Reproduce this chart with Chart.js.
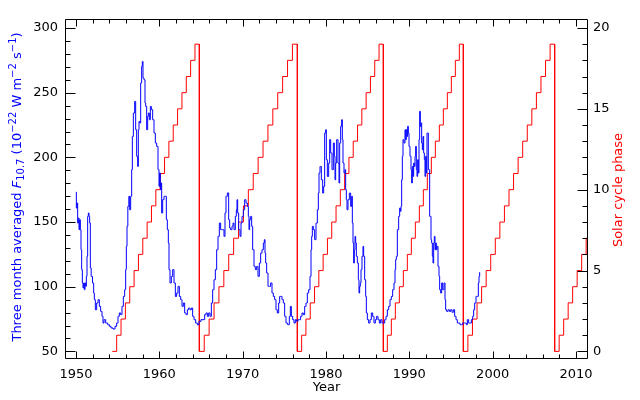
<!DOCTYPE html>
<html>
<head>
<meta charset="utf-8">
<script src="https://cdn.jsdelivr.net/npm/chart.js@4.4.1/dist/chart.umd.min.js"></script>
<style>
  html, body { margin: 0; padding: 0; background: #fff; }
  canvas { display: block; }
</style>
</head>
<body>
<canvas id="solarChart" width="640" height="400"></canvas>
<script>
// three month averaged F10.7, [year, value]
const f107 = [
  [1950.00,173.2],[1950.08,160.8],[1950.16,164.7],[1950.24,149.2],[1950.32,153.1],[1950.40,144.1],
  [1950.48,151.8],[1950.56,144.1],[1950.64,128.6],[1950.72,113.2],[1950.80,102.9],[1950.88,99.0],
  [1950.96,102.9],[1951.04,97.7],[1951.12,102.9],[1951.20,100.3],[1951.28,108.0],[1951.36,123.5],
  [1951.44,154.4],[1951.52,157.0],[1951.60,154.4],[1951.68,149.2],[1951.76,114.4],[1951.88,108.0],
  [1952.08,102.9],[1952.16,95.1],[1952.24,90.0],[1952.40,82.2],[1952.56,87.4],[1952.72,90.0],
  [1952.88,84.8],[1953.04,80.9],[1953.20,77.1],[1953.28,71.9],[1953.44,74.5],[1953.68,71.9],
  [1953.92,70.6],[1954.08,69.4],[1954.32,68.1],[1954.56,67.3],[1954.80,69.4],[1954.96,71.9],
  [1955.12,77.1],[1955.28,79.7],[1955.44,78.4],[1955.60,84.8],[1955.76,92.5],[1955.92,97.7],
  [1956.00,113.2],[1956.08,131.2],[1956.16,146.7],[1956.28,162.1],[1956.40,169.9],[1956.48,159.5],
  [1956.64,169.9],[1956.72,190.5],[1956.80,216.2],[1956.96,234.3],[1957.12,243.3],[1957.20,221.4],
  [1957.36,200.8],[1957.44,193.0],[1957.52,221.4],[1957.60,227.8],[1957.68,226.6],[1957.84,257.5],
  [1957.92,270.4],[1958.00,274.2],[1958.08,261.3],[1958.24,260.0],[1958.32,242.0],[1958.40,239.4],
  [1958.56,221.4],[1958.64,231.7],[1958.72,234.3],[1958.88,229.1],[1958.96,239.4],[1959.12,236.9],
  [1959.28,229.1],[1959.44,218.8],[1959.60,211.1],[1959.76,208.5],[1959.92,190.5],[1960.00,177.6],
  [1960.08,187.9],[1960.16,175.0],[1960.24,180.2],[1960.32,157.0],[1960.48,167.3],[1960.64,169.9],
  [1960.80,169.9],[1960.88,151.8],[1961.04,144.1],[1961.12,133.8],[1961.20,113.2],[1961.36,102.9],
  [1961.52,108.0],[1961.68,113.2],[1961.84,102.9],[1962.00,92.5],[1962.16,95.1],[1962.32,100.3],
  [1962.48,92.5],[1962.64,90.0],[1962.80,84.8],[1962.96,87.4],[1963.12,79.7],[1963.28,78.4],
  [1963.44,82.2],[1963.60,83.5],[1963.76,82.2],[1963.92,83.5],[1964.08,77.1],[1964.24,74.5],
  [1964.48,71.9],[1964.64,70.6],[1964.88,73.2],[1965.12,74.5],[1965.36,74.5],[1965.52,78.4],
  [1965.68,79.7],[1965.84,77.1],[1966.00,79.7],[1966.16,77.1],[1966.32,87.4],[1966.48,97.7],
  [1966.64,105.4],[1966.80,113.2],[1966.96,128.6],[1967.12,138.9],[1967.28,149.2],[1967.44,144.1],
  [1967.68,144.1],[1967.84,138.9],[1967.92,157.0],[1968.08,169.9],[1968.24,172.5],[1968.40,151.8],
  [1968.48,145.4],[1968.64,144.1],[1968.80,146.7],[1968.88,149.2],[1969.04,144.1],[1969.20,154.4],
  [1969.28,159.5],[1969.36,167.3],[1969.44,157.0],[1969.60,144.1],[1969.76,138.9],[1969.84,149.2],
  [1970.00,154.4],[1970.16,159.5],[1970.32,167.3],[1970.48,164.7],[1970.64,162.1],[1970.72,154.4],
  [1970.80,144.1],[1970.88,151.8],[1971.04,154.4],[1971.12,146.7],[1971.28,128.6],[1971.44,115.7],
  [1971.60,113.2],[1971.76,115.7],[1971.92,108.0],[1972.08,118.3],[1972.24,126.0],[1972.40,128.6],
  [1972.56,133.8],[1972.64,136.4],[1972.72,126.0],[1972.80,118.3],[1972.96,110.6],[1973.12,100.3],
  [1973.28,100.3],[1973.44,102.9],[1973.60,95.1],[1973.76,92.5],[1973.92,90.0],[1974.08,82.2],
  [1974.24,79.7],[1974.40,87.4],[1974.48,92.5],[1974.64,92.5],[1974.80,90.0],[1974.96,87.4],
  [1975.12,77.1],[1975.28,71.9],[1975.52,70.6],[1975.68,77.1],[1975.76,84.8],[1975.92,77.1],
  [1976.08,74.5],[1976.24,71.9],[1976.40,74.5],[1976.56,73.2],[1976.72,74.5],[1976.88,74.5],
  [1977.04,77.1],[1977.20,79.7],[1977.36,78.4],[1977.52,84.8],[1977.68,87.4],[1977.84,95.1],
  [1978.00,97.7],[1978.16,108.0],[1978.24,128.6],[1978.32,138.9],[1978.40,146.7],[1978.56,144.1],
  [1978.72,136.4],[1978.88,149.2],[1979.04,159.5],[1979.12,172.4],[1979.20,187.9],[1979.36,193.0],
  [1979.52,182.7],[1979.68,172.4],[1979.76,177.6],[1979.92,218.8],[1980.00,221.4],[1980.08,198.2],
  [1980.24,185.3],[1980.40,195.6],[1980.48,213.7],[1980.64,203.4],[1980.80,190.5],[1980.96,211.1],
  [1981.04,200.8],[1981.12,182.7],[1981.20,195.6],[1981.36,213.7],[1981.52,195.6],[1981.60,180.2],
  [1981.68,211.1],[1981.84,224.0],[1981.92,229.1],[1982.00,213.7],[1982.08,195.6],[1982.24,187.9],
  [1982.32,190.5],[1982.40,175.0],[1982.48,167.3],[1982.56,159.5],[1982.72,167.3],[1982.88,172.4],
  [1983.04,162.1],[1983.12,169.9],[1983.20,149.2],[1983.28,133.8],[1983.36,118.3],[1983.44,128.6],
  [1983.52,138.9],[1983.60,133.8],[1983.68,123.5],[1983.84,118.3],[1983.92,105.4],[1984.00,95.1],
  [1984.08,100.3],[1984.16,102.9],[1984.24,113.2],[1984.40,123.5],[1984.48,131.2],[1984.56,123.5],
  [1984.72,105.4],[1984.80,92.5],[1984.88,79.7],[1985.04,74.5],[1985.20,71.9],[1985.36,74.5],
  [1985.52,79.7],[1985.68,77.1],[1985.84,71.9],[1986.00,74.5],[1986.16,77.1],[1986.32,74.5],
  [1986.48,71.9],[1986.64,74.5],[1986.80,71.9],[1986.96,71.9],[1987.12,74.5],[1987.28,77.1],
  [1987.44,82.2],[1987.60,84.8],[1987.76,90.0],[1987.92,92.5],[1988.08,97.7],[1988.24,102.9],
  [1988.32,113.2],[1988.40,120.9],[1988.48,123.5],[1988.64,144.1],[1988.80,154.4],[1988.88,160.8],
  [1988.96,158.3],[1989.04,162.1],[1989.12,182.7],[1989.20,200.8],[1989.28,213.7],[1989.44,211.1],
  [1989.52,221.4],[1989.60,213.7],[1989.68,221.4],[1989.76,216.2],[1989.84,224.0],[1989.92,218.8],
  [1990.00,208.5],[1990.16,200.8],[1990.24,190.5],[1990.32,180.2],[1990.40,193.0],[1990.48,185.3],
  [1990.56,195.6],[1990.64,193.0],[1990.72,200.8],[1990.80,208.5],[1990.88,190.5],[1990.96,185.3],
  [1991.04,198.2],[1991.12,187.9],[1991.20,213.7],[1991.28,235.6],[1991.36,224.0],[1991.44,226.6],
  [1991.52,211.1],[1991.60,205.9],[1991.68,216.2],[1991.76,203.4],[1991.84,198.2],[1991.92,185.3],
  [1992.00,200.8],[1992.08,187.9],[1992.16,218.8],[1992.24,218.8],[1992.32,190.5],[1992.40,190.5],
  [1992.48,154.4],[1992.56,154.4],[1992.64,136.4],[1992.72,133.8],[1992.80,123.5],[1992.88,118.3],
  [1992.96,133.8],[1993.04,138.9],[1993.12,128.6],[1993.20,133.8],[1993.28,128.6],[1993.36,131.2],
  [1993.52,115.7],[1993.60,108.0],[1993.68,97.7],[1993.84,95.1],[1993.92,102.9],[1994.08,97.7],
  [1994.24,102.9],[1994.32,90.0],[1994.40,82.2],[1994.56,80.9],[1994.72,82.2],[1994.88,80.9],
  [1995.04,82.2],[1995.20,80.2],[1995.36,82.2],[1995.52,77.1],[1995.68,74.5],[1995.84,71.9],
  [1996.00,71.9],[1996.16,70.6],[1996.32,70.6],[1996.48,71.9],[1996.64,71.9],[1996.80,71.9],
  [1996.88,70.6],[1997.04,74.5],[1997.20,71.9],[1997.36,71.9],[1997.52,74.5],[1997.68,77.1],
  [1997.76,82.2],[1997.92,87.4],[1998.08,92.5],[1998.24,92.5],[1998.32,102.9],[1998.40,108.0],
  [1998.48,111.1]
];

// solar cycle minima (start of phase 0), phase split in 20 bins per cycle
const cycleMinima = [1954.36, 1964.80, 1976.56, 1986.88, 1996.48, 2007.44];
const lastCycleBin = 0.54;
const phaseEnd = 2011.44;
const phaseBins = 20;

const yearTicks = [1950, 1960, 1970, 1980, 1990, 2000, 2010];
const fluxTicks = [50, 100, 150, 200, 250, 300];
const phaseTicks = [0, 5, 10, 15, 20];

const fluxData = f107.map(p => ({ x: p[0], y: p[1] }));

const phaseData = [];
cycleMinima.forEach((start, k) => {
  const w = k < cycleMinima.length - 1 ? (cycleMinima[k + 1] - start) / phaseBins : lastCycleBin;
  for (let j = 0; j < phaseBins; j++) {
    const x0 = start + j * w;
    if (x0 >= phaseEnd) break;
    phaseData.push({ x: x0, y: j });
    phaseData.push({ x: Math.min(start + (j + 1) * w, phaseEnd), y: j });
  }
});

const FONT = 'DejaVu Sans';

// frame, inward ticks (major + minor) and the axis titles
const axisDecor = {
  id: 'axisDecor',
  afterDraw(chart) {
    const { ctx, chartArea: a, scales } = chart;
    const L = Math.round(a.left) + 0.5, R = Math.round(a.right) - 0.5;
    const T = Math.round(a.top) + 0.5, B = Math.round(a.bottom) - 0.5;
    ctx.save();
    ctx.strokeStyle = '#000';
    ctx.lineWidth = 1;
    ctx.beginPath();
    ctx.rect(L, T, R - L, B - T);

    const xTick = (v, len) => {
      const px = Math.round(scales.x.getPixelForValue(v)) + 0.5;
      ctx.moveTo(px, B); ctx.lineTo(px, B - len);
      ctx.moveTo(px, T); ctx.lineTo(px, T + len);
    };
    for (let v = 1950; v <= 2010; v += 2) xTick(v, v % 10 === 0 ? 7 : 4);

    for (let v = 50; v <= 300; v += 10) {
      const py = Math.round(scales.y.getPixelForValue(v)) + 0.5;
      ctx.moveTo(L, py); ctx.lineTo(L + (v % 50 === 0 ? 10 : 5), py);
    }
    for (let v = 0; v <= 20; v += 1) {
      const py = Math.round(scales.y2.getPixelForValue(v)) + 0.5;
      ctx.moveTo(R, py); ctx.lineTo(R - (v % 5 === 0 ? 10 : 5), py);
    }
    ctx.stroke();

    // x title
    ctx.fillStyle = '#000';
    ctx.font = '13px "' + FONT + '"';
    ctx.textAlign = 'center';
    ctx.textBaseline = 'middle';
    ctx.fillText('Year', (a.left + a.right) / 2, 388);

    // right title
    ctx.save();
    ctx.translate(619, 190);
    ctx.rotate(-Math.PI / 2);
    ctx.fillStyle = '#ff0000';
    ctx.fillText('Solar cycle phase', 0, 0);
    ctx.restore();

    // left title with sub/superscripts
    const big = '13px "' + FONT + '"';
    const ital = 'italic 13px "' + FONT + '"';
    const small = '10px "' + FONT + '"';
    const parts = [
      ['Three month averaged ', big, 0],
      ['F', ital, 0],
      ['10.7', small, 3],
      [' (10', big, 0],
      ['\u221222', small, -5],
      [' W m', big, 0],
      ['\u22122', small, -5],
      [' s', big, 0],
      ['\u22121', small, -5],
      [')', big, 0]
    ];
    let total = 0;
    parts.forEach(p => { ctx.font = p[1]; total += ctx.measureText(p[0]).width; });
    ctx.save();
    ctx.translate(18, 187);
    ctx.rotate(-Math.PI / 2);
    ctx.fillStyle = '#0000ff';
    ctx.textAlign = 'left';
    ctx.textBaseline = 'middle';
    let x = -total / 2;
    parts.forEach(p => {
      ctx.font = p[1];
      ctx.fillText(p[0], x, p[2]);
      x += ctx.measureText(p[0]).width;
    });
    ctx.restore();
    ctx.restore();
  }
};

const tickFont = { family: FONT, size: 13 };

new Chart(document.getElementById('solarChart'), {
  type: 'line',
  data: {
    datasets: [
      {
        label: 'F10.7',
        data: fluxData,
        yAxisID: 'y',
        borderColor: '#0000ff',
        borderWidth: 1,
        pointRadius: 0,
        stepped: 'middle',
        fill: false
      },
      {
        label: 'Solar cycle phase',
        data: phaseData,
        yAxisID: 'y2',
        borderColor: '#ff0000',
        borderWidth: 1,
        pointRadius: 0,
        fill: false
      }
    ]
  },
  options: {
    responsive: false,
    animation: false,
    layout: { padding: { top: 19, left: 0, right: 0, bottom: 0 } },
    plugins: { legend: { display: false }, tooltip: { enabled: false } },
    scales: {
      x: {
        type: 'linear',
        min: 1948.68,
        max: 2011.44,
        afterBuildTicks: s => { s.ticks = yearTicks.map(v => ({ value: v })); },
        afterFit: s => { s.height = 41; },
        ticks: { color: '#000', font: tickFont, padding: 8, maxRotation: 0, autoSkip: false, callback: v => String(v) },
        grid: { display: false, drawTicks: false },
        border: { display: false }
      },
      y: {
        position: 'left',
        min: 44.1,
        max: 307,
        afterBuildTicks: s => { s.ticks = fluxTicks.map(v => ({ value: v })); },
        afterFit: s => { s.width = 65; },
        ticks: { color: '#000', font: tickFont, padding: 7, autoSkip: false },
        grid: { display: false, drawTicks: false },
        border: { display: false }
      },
      y2: {
        position: 'right',
        min: -0.47,
        max: 20.556,
        afterBuildTicks: s => { s.ticks = phaseTicks.map(v => ({ value: v })); },
        afterFit: s => { s.width = 52; },
        ticks: { color: '#000', font: tickFont, padding: 5, autoSkip: false },
        grid: { display: false, drawTicks: false },
        border: { display: false }
      }
    }
  },
  plugins: [axisDecor]
});
</script>
</body>
</html>
